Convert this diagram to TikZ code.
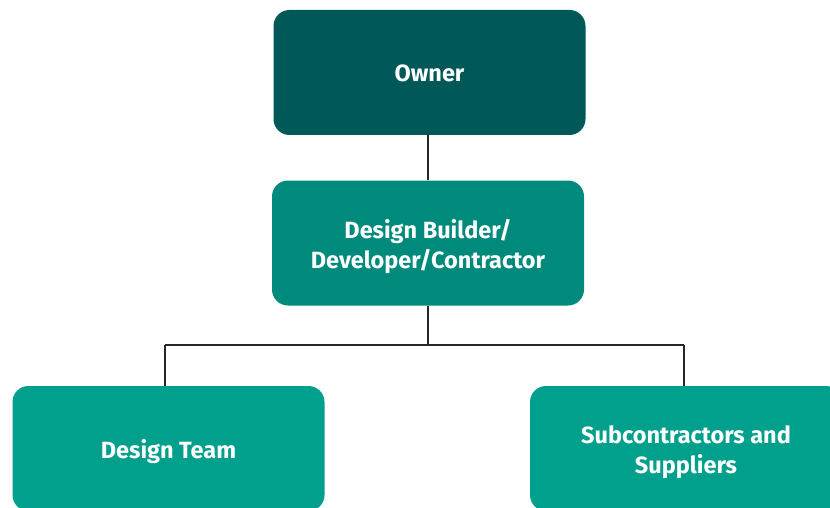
\documentclass[tikz,border=0pt]{standalone}
\usepackage{fontspec}
\setmainfont{Fira Sans}
\begin{document}
\begin{tikzpicture}[x=1pt,y=-1pt,
  box/.style={rounded corners=16pt, minimum width=312pt, minimum height=125pt, inner sep=0pt},
  lbl/.style={text=white, font=\bfseries\fontsize{23.5}{30}\selectfont, align=center, inner sep=0pt, yshift=-3.5pt},
  link/.style={draw=black!85, line width=1.2pt}]
\useasboundingbox (0,0) rectangle (830,508);
\clip (0,0) rectangle (830,508);
\definecolor{cOwner}{RGB}{1,88,89}
\definecolor{cMid}{RGB}{0,138,124}
\definecolor{cLow}{RGB}{0,160,140}
\node[box, fill=cOwner, label={[lbl]center:Owner\vphantom{g}}] (owner) at (429.5,72.5) {};
\node[box, fill=cMid, label={[lbl]center:Design Builder/\\Developer/Contractor}] (db) at (428,243) {};
\node[box, fill=cLow, label={[lbl]center:Design Team}] (dt) at (168.5,448.5) {};
\node[box, fill=cLow, label={[lbl]center:Subcontractors and\\Suppliers}] (sub) at (686,448.5) {};
\coordinate (j) at (428,345);
\draw[link] (owner.south -| db.north) -- (db.north);
\draw[link] (db.south) -- (j);
\draw[link] (165,345) -- (684,345);
\draw[link] (j -| 165,0) -- (165,386);
\draw[link] (684,345) -- (684,386);
\end{tikzpicture}
\end{document}
